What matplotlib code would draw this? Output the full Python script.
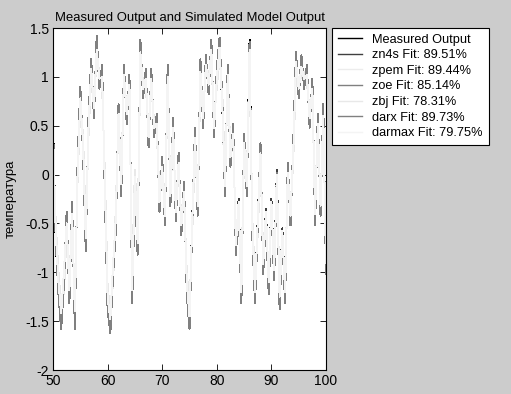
import numpy as np
import matplotlib
matplotlib.use("Agg")
import matplotlib.pyplot as plt

# time axis (step 0.5)
t = np.arange(50, 100.5, 0.5)

measured = [0.55, -0.70, -1.20, -1.55, -1.10, -0.40, -1.30, -0.30, -1.55, 0.10,
            0.88, 0.25, -0.75, 0.55, 1.15, 0.60, 1.40, 0.90, 1.10, -0.20,
            -1.35, -1.60, -1.00, -0.55, 0.70, -0.20, 1.10, 0.55, 1.00, -1.30,
            -0.10, -0.80, 1.35, 0.80, 1.05, 0.30, 1.05, 0.40, 0.60, -0.35,
            0.15, -0.50, 1.10, -0.30, 0.55, -0.45, 0.20, -0.60, -0.10, -1.20,
            -1.55, -0.50, 0.45, -0.40, 1.15, 0.50, 1.20, 0.85, 1.35, 0.40,
            1.05, 1.40, 0.75, -0.20, 1.10, 0.10, 0.50, -0.80, -0.30, -1.30,
            0.40, -0.20, 1.38, -0.60, -1.30, -0.50, 0.30, -1.00, -0.40, -1.20,
            -0.30, -1.05, 0.00, -1.35, -0.60, -1.30, 0.10, -0.50, 0.30, 1.25,
            0.80, 1.20, 0.90, 1.10, 0.50, 0.95, -0.50, 0.60, -0.40, 0.70,
            -1.00]

zn4s = [0.50, -0.62, -1.15, -1.48, -1.05, -0.45, -1.22, -0.35, -1.45, 0.05,
        0.82, 0.30, -0.70, 0.50, 1.10, 0.65, 1.32, 0.95, 1.05, -0.15,
        -1.30, -1.52, -0.95, -0.50, 0.65, -0.15, 1.05, 0.60, 0.95, -1.22,
        -0.05, -0.75, 1.28, 0.85, 1.00, 0.35, 1.00, 0.45, 0.55, -0.30,
        0.10, -0.45, 1.05, -0.25, 0.50, -0.40, 0.15, -0.55, -0.15, -1.15,
        -1.48, -0.45, 0.40, -0.35, 1.10, 0.55, 1.15, 0.90, 1.30, 0.45,
        1.00, 1.32, 0.70, -0.15, 1.05, 0.15, 0.45, -0.75, -0.25, -1.25,
        0.35, -0.15, 1.30, -0.55, -1.22, -0.45, 0.25, -0.95, -0.35, -1.15,
        -0.25, -1.00, 0.05, -1.28, -0.55, -1.22, 0.05, -0.45, 0.25, 1.18,
        0.85, 1.15, 0.95, 1.05, 0.55, 0.90, -0.45, 0.55, -0.35, 0.65,
        -0.95]

zpem = [0.52, -0.65, -1.18, -1.50, -1.08, -0.42, -1.25, -0.32, -1.50, 0.08,
        0.85, 0.28, -0.72, 0.52, 1.12, 0.62, 1.35, 0.92, 1.08, -0.18,
        -1.32, -1.55, -0.98, -0.52, 0.68, -0.18, 1.08, 0.58, 0.98, -1.25,
        -0.08, -0.78, 1.30, 0.82, 1.02, 0.32, 1.02, 0.42, 0.58, -0.32,
        0.12, -0.48, 1.08, -0.28, 0.52, -0.42, 0.18, -0.58, -0.12, -1.18,
        -1.50, -0.48, 0.42, -0.38, 1.12, 0.52, 1.18, 0.88, 1.32, 0.42,
        1.02, 1.35, 0.72, -0.18, 1.08, 0.12, 0.48, -0.78, -0.28, -1.28,
        0.38, -0.18, 1.32, -0.58, -1.25, -0.48, 0.28, -0.98, -0.38, -1.18,
        -0.28, -1.02, 0.02, -1.30, -0.58, -1.25, 0.08, -0.48, 0.28, 1.20,
        0.82, 1.18, 0.92, 1.08, 0.52, 0.92, -0.48, 0.58, -0.38, 0.68,
        -0.98]

zoe = [0.40, -0.55, -1.05, -1.40, -1.15, -0.55, -1.10, -0.45, -1.35, 0.00,
       0.75, 0.35, -0.60, 0.45, 1.05, 0.70, 1.25, 1.00, 0.95, -0.05,
       -1.20, -1.45, -1.05, -0.40, 0.60, -0.05, 1.00, 0.65, 0.90, -1.10,
       0.00, -0.65, 1.20, 0.90, 0.95, 0.40, 0.95, 0.50, 0.50, -0.25,
       0.05, -0.40, 0.95, -0.20, 0.45, -0.35, 0.10, -0.50, -0.20, -1.05,
       -1.40, -0.55, 0.35, -0.30, 1.00, 0.60, 1.10, 0.95, 1.25, 0.50,
       0.95, 1.25, 0.80, -0.10, 1.00, 0.20, 0.40, -0.70, -0.35, -1.15,
       0.30, -0.10, 1.20, -0.50, -1.15, -0.55, 0.20, -0.90, -0.45, -1.05,
       -0.35, -0.95, -0.05, -1.20, -0.65, -1.15, 0.00, -0.40, 0.20, 1.10,
       0.90, 1.05, 1.00, 1.00, 0.60, 0.85, -0.35, 0.50, -0.30, 0.55,
       -0.85]

zbj = [0.35, -0.50, -1.00, -1.35, -1.20, -0.60, -1.05, -0.50, -1.30, -0.05,
       0.70, 0.40, -0.55, 0.40, 1.00, 0.75, 1.20, 1.05, 0.90, 0.00,
       -1.15, -1.40, -1.10, -0.35, 0.55, 0.00, 0.95, 0.70, 0.85, -1.05,
       0.05, -0.60, 1.15, 0.95, 0.90, 0.45, 0.90, 0.55, 0.45, -0.20,
       0.00, -0.35, 0.90, -0.15, 0.40, -0.30, 0.05, -0.45, -0.25, -1.00,
       -1.35, -0.60, 0.30, -0.25, 0.95, 0.65, 1.05, 1.00, 1.20, 0.55,
       0.90, 1.20, 0.85, -0.05, 0.95, 0.25, 0.35, -0.65, -0.40, -1.10,
       0.25, -0.05, 1.15, -0.45, -1.10, -0.60, 0.15, -0.85, -0.50, -1.00,
       -0.40, -0.90, -0.10, -1.15, -0.70, -1.10, -0.05, -0.35, 0.15, 1.05,
       0.95, 1.00, 1.05, 0.95, 0.65, 0.80, -0.30, 0.45, -0.25, 0.50,
       -0.80]

darx = [0.53, -0.68, -1.22, -1.58, -1.12, -0.38, -1.32, -0.28, -1.58, 0.12,
        0.90, 0.22, -0.78, 0.58, 1.18, 0.58, 1.42, 0.88, 1.12, -0.22,
        -1.38, -1.62, -1.02, -0.58, 0.72, -0.22, 1.12, 0.52, 1.02, -1.32,
        -0.12, -0.82, 1.38, 0.78, 1.08, 0.28, 1.08, 0.38, 0.62, -0.38,
        0.18, -0.52, 1.12, -0.32, 0.58, -0.48, 0.22, -0.62, -0.08, -1.22,
        -1.58, -0.52, 0.48, -0.42, 1.18, 0.48, 1.22, 0.82, 1.38, 0.38,
        1.08, 1.40, 0.78, -0.22, 1.12, 0.08, 0.52, -0.82, -0.32, -1.32,
        0.42, -0.22, 1.36, -0.62, -1.32, -0.52, 0.32, -1.02, -0.42, -1.22,
        -0.32, -1.08, 0.02, -1.38, -0.62, -1.32, 0.12, -0.52, 0.32, 1.26,
        0.78, 1.22, 0.88, 1.12, 0.48, 0.98, -0.52, 0.62, -0.42, 0.72,
        -1.02]

darmax = [0.45, -0.58, -1.10, -1.42, -1.00, -0.50, -1.18, -0.40, -1.40, 0.02,
          0.78, 0.32, -0.65, 0.48, 1.08, 0.68, 1.28, 0.98, 1.00, -0.10,
          -1.25, -1.48, -0.92, -0.45, 0.62, -0.10, 1.02, 0.62, 0.92, -1.18,
          -0.02, -0.70, 1.25, 0.88, 0.98, 0.38, 0.98, 0.48, 0.52, -0.28,
          0.08, -0.42, 1.00, -0.22, 0.48, -0.38, 0.12, -0.52, -0.18, -1.10,
          -1.45, -0.48, 0.38, -0.32, 1.05, 0.58, 1.12, 0.92, 1.28, 0.48,
          0.98, 1.30, 0.72, -0.12, 1.02, 0.18, 0.42, -0.72, -0.28, -1.20,
          0.32, -0.12, 1.28, -0.52, -1.20, -0.48, 0.22, -0.92, -0.38, -1.10,
          -0.28, -0.98, 0.00, -1.25, -0.58, -1.20, 0.02, -0.42, 0.22, 1.15,
          0.88, 1.10, 0.98, 1.02, 0.58, 0.88, -0.40, 0.52, -0.32, 0.60,
          -0.90]

labels = ["Measured Output", "zn4s Fit: 89.51%", "zpem Fit: 89.44%",
          "zoe Fit: 85.14%", "zbj Fit: 78.31%", "darx Fit: 89.73%",
          "darmax Fit: 79.75%"]
series = [measured, zn4s, zpem, zoe, zbj, darx, darmax]
colors = ["#000000", "#404040", "#ececec", "#808080", "#e8e8e8", "#808080", "#f4f4f4"]

plt.rcParams['font.family'] = ['Liberation Sans', 'DejaVu Sans']

fig = plt.figure(figsize=(5.11, 3.94), dpi=100, facecolor="#cccccc")
ax = fig.add_axes([53 / 511, 1 - 370 / 394, 273 / 511, 342 / 394])
ax.set_facecolor("white")

for y, c, lab in zip(series, colors, labels):
    ax.plot(t, y, color=c, lw=0.72, label=lab, antialiased=False)

ax.set_xlim(50, 100)
ax.set_ylim(-2, 1.5)
ax.set_xticks(np.arange(50, 101, 10))
ax.set_yticks(np.arange(-2, 1.51, 0.5))
ax.set_yticklabels(["-2", "-1.5", "-1", "-0.5", "0", "0.5", "1", "1.5"])
ax.tick_params(direction="in", top=True, right=True, length=4, width=0.6,
               labelsize=10, pad=3)
for s in ax.spines.values():
    s.set_linewidth(0.8)
ax.set_title("Measured Output and Simulated Model Output", fontsize=9.4, pad=5)
ax.set_ylabel("температура", fontsize=9.5, labelpad=6)

leg = fig.legend(loc="upper left", bbox_to_anchor=(332 / 511, 1 - 28 / 394),
                 fontsize=9.2, frameon=True, fancybox=False, borderaxespad=0,
                 handlelength=1.9, handletextpad=0.8, labelspacing=0.28,
                 borderpad=0.45, framealpha=1.0)
leg.get_frame().set_edgecolor("black")
leg.get_frame().set_facecolor("white")
leg.get_frame().set_linewidth(0.8)
for h in leg.legend_handles:
    h.set_linewidth(1.0)

fig.savefig("out.png", dpi=100, facecolor=fig.get_facecolor())
